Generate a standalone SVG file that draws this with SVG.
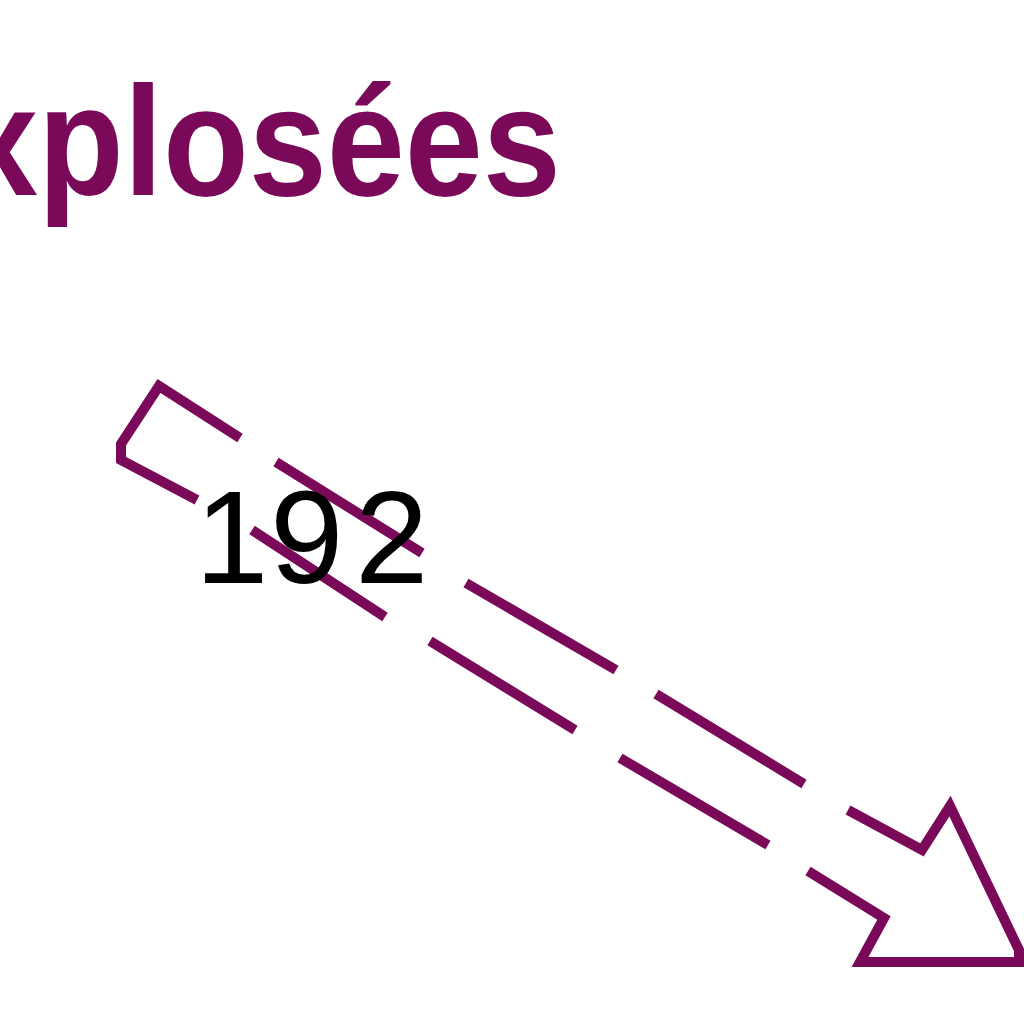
<svg xmlns="http://www.w3.org/2000/svg" width="1024" height="1024" viewBox="0 0 1024 1024">
  <style>
    .title { font-family: "Liberation Sans", Arial, sans-serif; font-weight: bold; font-size: 156px; fill: #7a095a; }
    .label { font-family: "Liberation Sans", Arial, sans-serif; font-size: 132px; fill: #000000; }
    .outline { fill: none; stroke: #7a095a; stroke-width: 10; stroke-linejoin: miter; stroke-linecap: butt; }
  </style>
  <rect width="1024" height="1024" fill="#ffffff"/>
  <g id="title">
    <text class="title" transform="scale(0.9,1)" x="-44.4" y="195">xplosées</text>
  </g>
  <g id="arrow-node">
    <path class="outline" d="M240,438 L159,386 L121,444 L121,460 L197,500
      M276,462 L422,553
      M466,583 L616,670
      M656,694 L804,784
      M848,810 L922,850 L950,806 L1019,950 L1019,962 L860,962 L884,918 L808,871
      M768,845 L620,758
      M575,730 L430,641
      M385,617 L252,530"/>
    <text class="label" x="195 270 355" y="583">192</text>
  </g>
</svg>
